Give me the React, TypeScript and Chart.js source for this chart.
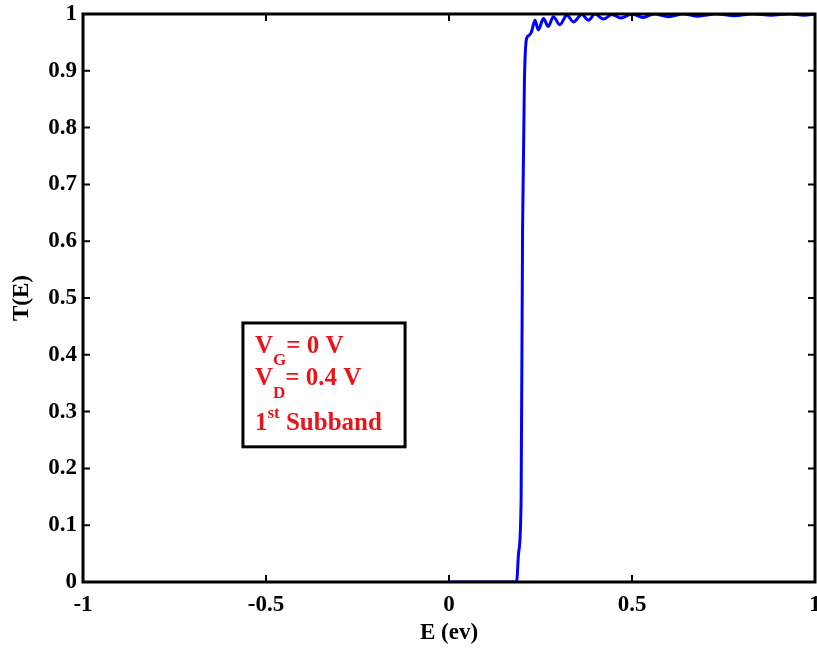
import React, { useEffect, useRef } from "react";
import { Chart, registerables } from "chart.js";

Chart.register(...registerables);

const E_VALUES = [
  0, 0.05, 0.1, 0.15, 0.18, 0.185, 0.19, 0.197, 0.201, 0.206, 0.212, 0.218, 0.225, 0.235,
  0.244, 0.258, 0.271, 0.285, 0.303, 0.322, 0.34, 0.363, 0.381, 0.399, 0.422, 0.445,
  0.47, 0.5, 0.53, 0.56, 0.6, 0.64, 0.68, 0.73, 0.78, 0.83, 0.88, 0.93, 0.97, 1.0,
];
const T_VALUES = [
  0, 0, 0, 0, 0, 0.002, 0.05, 0.144, 0.62, 0.88, 0.957, 0.962, 0.968, 0.989,
  0.972, 0.992, 0.978, 0.995, 0.981, 0.998, 0.986, 0.999, 0.989, 1.0, 0.991, 0.999,
  0.993, 1.0, 0.994, 1.0, 0.995, 1.0, 0.996, 1.0, 0.997, 1.0, 0.998, 1.0, 0.998, 1.0,
];
const X_TICKS = [-1, -0.5, 0, 0.5, 1];
const Y_TICKS = [0, 0.1, 0.2, 0.3, 0.4, 0.5, 0.6, 0.7, 0.8, 0.9, 1];
const X_TITLE = "E (ev)";
const Y_TITLE = "T(E)";
// annotation box corners in data coordinates
const BOX_X = [-0.563, -0.12];
const BOX_Y = [0.238, 0.456];

const FONT = "'Liberation Serif', 'Times New Roman', serif";

const framePlugin = {
  id: "frame",
  afterDraw(chart: any) {
    const { ctx, chartArea: a, scales } = chart;
    const xs = scales.x;
    const ys = scales.y;
    ctx.save();
    ctx.strokeStyle = "#000";
    ctx.lineWidth = 2;
    const tl = 7;
    ctx.beginPath();
    for (const v of X_TICKS) {
      const px = xs.getPixelForValue(v);
      ctx.moveTo(px, a.bottom);
      ctx.lineTo(px, a.bottom - tl);
      ctx.moveTo(px, a.top);
      ctx.lineTo(px, a.top + tl);
    }
    for (const v of Y_TICKS) {
      const py = ys.getPixelForValue(v);
      ctx.moveTo(a.left, py);
      ctx.lineTo(a.left + tl, py);
      ctx.moveTo(a.right, py);
      ctx.lineTo(a.right - tl, py);
    }
    ctx.stroke();
    ctx.lineWidth = 3;
    ctx.strokeRect(a.left, a.top, a.right - a.left, a.bottom - a.top);

    // annotation box
    const bx0 = xs.getPixelForValue(BOX_X[0]);
    const bx1 = xs.getPixelForValue(BOX_X[1]);
    const by0 = ys.getPixelForValue(BOX_Y[1]);
    const by1 = ys.getPixelForValue(BOX_Y[0]);
    ctx.fillStyle = "#fff";
    ctx.fillRect(bx0, by0, bx1 - bx0, by1 - by0);
    ctx.lineWidth = 3;
    ctx.strokeRect(bx0, by0, bx1 - bx0, by1 - by0);

    ctx.fillStyle = "#e8141c";
    ctx.textAlign = "left";
    ctx.textBaseline = "alphabetic";
    const big = `bold 25px ${FONT}`;
    const small = `bold 17px ${FONT}`;
    const put = (t: string, x: number, y: number, f: string) => {
      ctx.font = f;
      ctx.fillText(t, x, y);
      return x + ctx.measureText(t).width;
    };
    const tx = bx0 + 12;
    let x = put("V", tx, by0 + 30, big);
    x = put("G", x, by0 + 42, small);
    put("= 0 V", x, by0 + 30, big);
    x = put("V", tx, by0 + 62, big);
    x = put("D", x, by0 + 75, small);
    put("= 0.4 V", x, by0 + 62, big);
    x = put("1", tx, by0 + 107, big);
    x = put("st", x, by0 + 95, small);
    put(" Subband", x, by0 + 107, big);
    ctx.restore();
  },
};

export default function App() {
  const ref = useRef<HTMLCanvasElement | null>(null);
  useEffect(() => {
    if (!ref.current) return;
    const points = E_VALUES.map((e, i) => ({ x: e, y: T_VALUES[i] }));
    const chart = new Chart(ref.current, {
      type: "line",
      data: {
        datasets: [
          {
            data: points,
            borderColor: "#0000ff",
            borderWidth: 3,
            pointRadius: 0,
            fill: false,
            cubicInterpolationMode: "monotone",
          },
        ],
      },
      options: {
        responsive: false,
        animation: false,
        layout: { padding: { top: 14, right: 2, left: 0, bottom: 0 } },
        plugins: { legend: { display: false }, tooltip: { enabled: false } },
        scales: {
          x: {
            type: "linear",
            min: -1,
            max: 1,
            afterBuildTicks: (s: any) => {
              s.ticks = X_TICKS.map((v) => ({ value: v }));
            },
            afterFit: (s: any) => {
              s.height = 67;
              s.paddingLeft = 0;
              s.paddingRight = 0;
            },
            grid: { display: false, drawTicks: false },
            border: { display: false },
            ticks: {
              color: "#000",
              padding: 9,
              maxRotation: 0,
              autoSkip: false,
              font: { family: FONT, size: 23, weight: "bold" },
              callback: (v: any) => String(v),
            },
            title: {
              display: true,
              text: X_TITLE,
              color: "#000",
              padding: { top: 0, bottom: 2 },
              font: { family: FONT, size: 23, weight: "bold" },
            },
          },
          y: {
            type: "linear",
            min: 0,
            max: 1,
            afterBuildTicks: (s: any) => {
              s.ticks = Y_TICKS.map((v) => ({ value: v }));
            },
            afterFit: (s: any) => {
              s.width = 83;
              s.paddingTop = 0;
              s.paddingBottom = 0;
            },
            grid: { display: false, drawTicks: false },
            border: { display: false },
            ticks: {
              color: "#000",
              padding: 6,
              autoSkip: false,
              font: { family: FONT, size: 23, weight: "bold" },
              callback: (v: any) => String(v),
            },
            title: {
              display: true,
              text: Y_TITLE,
              color: "#000",
              padding: { top: 8, bottom: 0 },
              font: { family: FONT, size: 23, weight: "bold" },
            },
          },
        },
      },
      plugins: [framePlugin],
    } as any);
    return () => chart.destroy();
  }, []);
  return (
    <div style={{ position: "fixed", left: 0, top: 0, background: "#fff" }}>
      <canvas ref={ref} width={817} height={649} />
    </div>
  );
}
